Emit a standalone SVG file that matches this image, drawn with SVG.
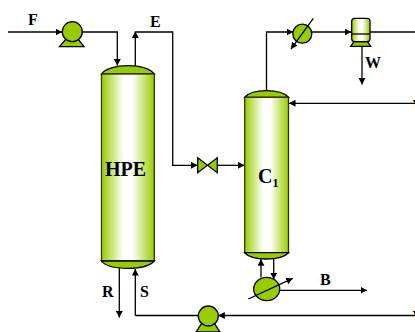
<svg xmlns="http://www.w3.org/2000/svg" width="415" height="332" viewBox="0 0 415 332">
<style>
.l{fill:none;stroke:#000;stroke-width:1.3}
.g{fill:#99cc00;stroke:#000;stroke-width:1.3}
.b{fill:url(#grad);stroke:#333300;stroke-width:1.3}
.t{font-family:"Liberation Serif",serif;font-weight:bold;font-size:16px;fill:#000}
</style>
<defs>
<linearGradient id="grad" x1="0" y1="0" x2="1" y2="0"><stop offset="0" stop-color="#99cc00"/><stop offset="0.42" stop-color="#ffffff"/><stop offset="0.58" stop-color="#ffffff"/><stop offset="1" stop-color="#99cc00"/></linearGradient>
<marker id="a" markerUnits="userSpaceOnUse" markerWidth="8" markerHeight="8" refX="6.500" refY="3.500" orient="auto"><path d="M0 0L6.500 3.500L0 7Z" fill="#000"/></marker>
</defs>
<g id="connectors">
<path class="l" d="M8 32H62" marker-end="url(#a)"/>
<path class="l" d="M82 32H117.300V65.500" marker-end="url(#a)"/>
<path class="l" d="M135.300 66V31.500" marker-end="url(#a)"/>
<path class="l" d="M135.300 32H172.700V165.300H197.500" marker-end="url(#a)"/>
<path class="l" d="M217.500 165.300H244.500" marker-end="url(#a)"/>
<path class="l" d="M266.500 91V32H293" marker-end="url(#a)"/>
<path class="l" d="M311 32H351" marker-end="url(#a)"/>
<path class="l" d="M370 32H415"/>
<path class="l" d="M362 46V84.500" marker-end="url(#a)"/>
<path class="l" d="M415 103.300H289" marker-end="url(#a)"/>
<path class="l" d="M119.300 268V317.500" marker-end="url(#a)"/>
<path class="l" d="M135.300 315.500V269" marker-end="url(#a)"/>
<path class="l" d="M135.300 315.500H198"/>
<path class="l" d="M415 315.500H218.300" marker-end="url(#a)"/>
<path class="l" d="M261 277.500V259.300" marker-end="url(#a)"/>
<path class="l" d="M273.700 259V279.300" marker-end="url(#a)"/>
<path class="l" d="M280 290.300H367" marker-end="url(#a)"/>
</g>
<g id="F"><text class="t" x="28" y="25">F</text></g>
<g id="pump1">
<path class="g" d="M59.500 46.700L66 39H78L84 46.700Z"/>
<circle class="g" cx="72.300" cy="31.700" r="10"/>
</g>
<g id="E"><text class="t" x="150" y="27">E</text></g>
<g id="HPE">
<path class="g" d="M101.500 74C105 69 116 65.700 128 65.700C140 65.700 150 69 154.300 74Z"/>
<rect class="b" x="101.500" y="74" width="52.800" height="187"/>
<path class="g" d="M101.500 261C105 266 116 268.300 128 268.300C140 268.300 150 266 154.300 261Z"/>
<text class="t" x="105" y="176" style="font-size:20px">HPE</text>
</g>
<g id="R"><text class="t" x="102" y="297">R</text></g>
<g id="S"><text class="t" x="140" y="297">S</text></g>
<g id="pump2">
<path class="g" d="M196 332L202 323H214L220 332Z"/>
<circle class="g" cx="208.300" cy="316" r="10"/>
</g>
<g id="valve">
<path class="g" d="M197.700 157.700L217.300 172.700V157.700L197.700 172.700Z"/>
</g>
<g id="C1">
<path class="g" d="M244.700 97.300C248 93.500 256 90.700 266.500 90.700C277 90.700 285 93.500 288.500 97.300Z"/>
<rect class="b" x="244.700" y="97.300" width="43.800" height="155.400"/>
<path class="g" d="M244.700 252.700C248 256.500 256 259 266.500 259C277 259 285 256.500 288.500 252.700Z"/>
<text x="258" y="182.700" style="font-family:'Liberation Serif',serif;font-weight:bold;font-size:20px">C<tspan dy="4" style="font-size:12px">1</tspan></text>
</g>
<g id="condenser">
<circle class="g" cx="302.300" cy="33.700" r="9.500"/>
<path class="l" d="M313.300 18.300L291 49" marker-end="url(#a)"/>
</g>
<g id="drum">
<path d="M350.700 46.300L354 41.700H367.500L370.700 46.300Z" class="g"/>
<rect x="351.700" y="18.300" width="18.300" height="23.400" rx="3" fill="url(#grad)" stroke="#000" stroke-width="1.300"/>
<path class="l" d="M351.700 34H370"/>
</g>
<g id="W"><text class="t" x="365" y="68">W</text></g>
<g id="reboiler">
<ellipse class="g" cx="266.700" cy="289" rx="13" ry="11.700"/>
<path class="l" d="M248.300 299L292.700 278.300" marker-end="url(#a)"/>
</g>
<g id="B"><text class="t" x="320" y="285">B</text></g>
<text class="t" x="412.500" y="110.500">V</text>
<text class="t" x="412.500" y="321.500">V</text>
</svg>
